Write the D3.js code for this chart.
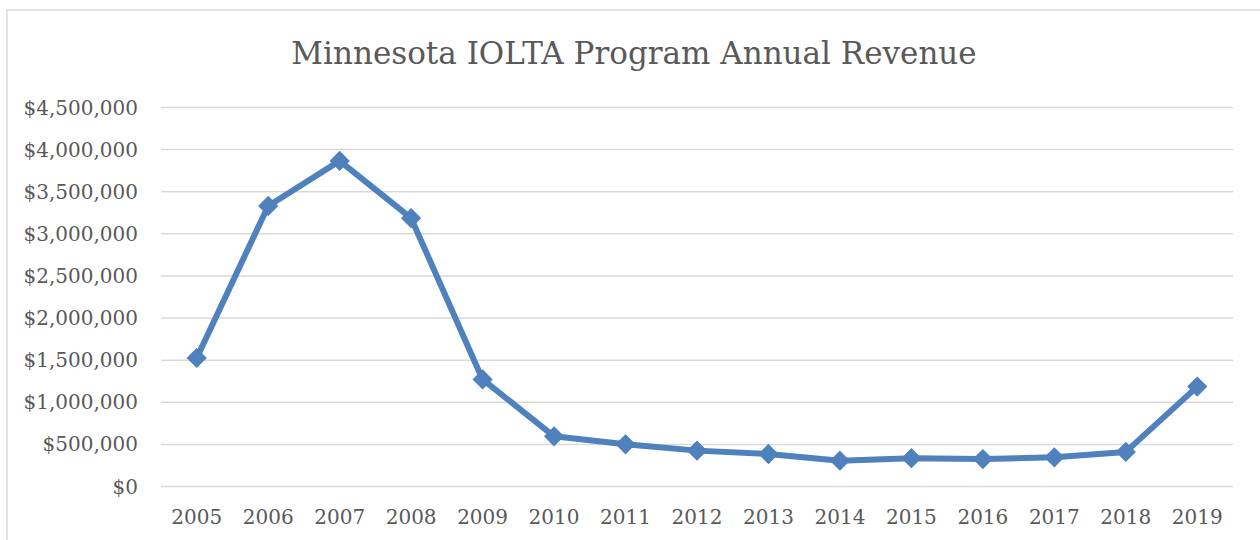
<!DOCTYPE html>
<html>
<head>
<meta charset="utf-8">
<script src="https://cdn.jsdelivr.net/npm/d3@7"></script>
<style>
  body { margin: 0; background: #fff; }
  text { font-family: "DejaVu Serif", "Liberation Serif", serif; fill: #595959; }
</style>
</head>
<body>
<div id="chart"></div>
<script>
let width = 1260;
let height = 540;

// data
let years = ["2005", "2006", "2007", "2008", "2009", "2010", "2011", "2012",
             "2013", "2014", "2015", "2016", "2017", "2018", "2019"];
let revenue = [1520000, 3325000, 3860000, 3180000, 1265000, 590000, 495000, 420000,
               380000, 300000, 330000, 320000, 340000, 405000, 1180000];
let yTicks = [0, 500000, 1000000, 1500000, 2000000, 2500000, 3000000, 3500000, 4000000, 4500000];
let title = "Minnesota IOLTA Program Annual Revenue";

let plot = {left: 161, right: 1233, top: 107, bottom: 486};

let svg = d3.select("#chart")
  .append("svg")
  .attr("width", width)
  .attr("height", height);

// chart frame
svg.append("rect")
  .attr("x", 7)
  .attr("y", 10)
  .attr("width", 1300)
  .attr("height", 600)
  .attr("fill", "none")
  .attr("stroke", "#d9d9d9")
  .attr("stroke-width", 1.5);

let x = d3.scaleBand()
  .domain(years)
  .range([plot.left, plot.right])
  .padding(0);

let y = d3.scaleLinear()
  .domain([0, 4500000])
  .range([plot.bottom, plot.top]);

let fmt = v => "$" + d3.format(",")(v);

// gridlines + y labels
let yAxis = d3.axisLeft(y)
  .tickValues(yTicks)
  .tickFormat(fmt)
  .tickSize(-(plot.right - plot.left))
  .tickPadding(23);

svg.append("g")
  .attr("transform", "translate(" + plot.left + ",0)")
  .call(yAxis)
  .call(g => g.select(".domain").remove())
  .call(g => g.selectAll(".tick line").attr("stroke", "#d9d9d9").attr("stroke-width", 1.5))
  .call(g => g.selectAll(".tick text")
    .style("font-size", "20px")
    .attr("font-family", null)
    .attr("dy", "0.35em"));

// x labels
let xAxis = d3.axisBottom(x)
  .tickSize(0)
  .tickPadding(24);

svg.append("g")
  .attr("transform", "translate(0," + plot.bottom + ")")
  .call(xAxis)
  .call(g => g.select(".domain").remove())
  .call(g => g.selectAll(".tick text")
    .style("font-size", "20px")
    .attr("font-family", null));

// title
svg.append("text")
  .attr("x", 634)
  .attr("y", 64)
  .attr("text-anchor", "middle")
  .style("font-size", "31px")
  .text(title);

let pts = years.map((yr, i) => [x(yr) + x.bandwidth() / 2, y(revenue[i])]);

svg.append("path")
  .datum(pts)
  .attr("d", d3.line())
  .attr("fill", "none")
  .attr("stroke", "#4f81bd")
  .attr("stroke-width", 6)
  .attr("stroke-linejoin", "round");

svg.selectAll(".marker")
  .data(pts)
  .enter()
  .append("path")
  .attr("class", "marker")
  .attr("transform", d => "translate(" + d[0] + "," + d[1] + ")")
  .attr("d", d3.symbol().type(d3.symbolDiamond2).size(210))
  .attr("fill", "#4f81bd")
  .attr("stroke", "#4f81bd")
  .attr("stroke-width", 1.5);
</script>
</body>
</html>
